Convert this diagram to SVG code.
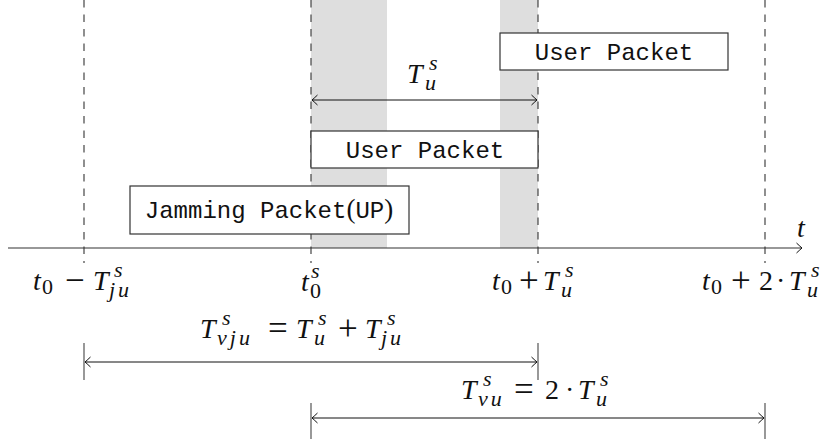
<svg xmlns="http://www.w3.org/2000/svg" width="828" height="439" viewBox="0 0 828 439">
  <style>
    .band { fill: #dedede; }
    .guide { stroke: #333; stroke-width: 1.1; stroke-dasharray: 7.5 7; fill: none; }
    .axis { stroke: #333; stroke-width: 1.2; fill: none; }
    .dim { stroke: #111; stroke-width: 1; fill: none; }
    .tick { stroke: #444; stroke-width: 1.1; fill: none; }
    .box { fill: #fff; stroke: #333; stroke-width: 1.2; }
    .tt { font-family: "Liberation Mono", "DejaVu Sans Mono", monospace; font-size: 24px; fill: #111; }
    .m { font-family: "Liberation Serif", "Times New Roman", serif; font-size: 28px; fill: #111; }
    .i { font-style: italic; }
    .sc { font-size: 22px; }
    .ls { letter-spacing: 3px; }
    .op { font-size: 35px; }
    .rp { font-family: "Liberation Serif", "Times New Roman", serif; font-size: 27px; }
  </style>
  <defs>
    <marker id="to" viewBox="-8 -6 10 12" refX="0" refY="0" markerWidth="10" markerHeight="12"
            markerUnits="userSpaceOnUse" orient="auto-start-reverse">
      <path d="M-5.5,-5 Q-1.5,-1.2 0,0 Q-1.5,1.2 -5.5,5" fill="none" stroke="#111" stroke-width="1"/>
    </marker>
  </defs>

  <!-- shaded slots -->
  <rect class="band" x="311" y="0" width="76" height="248"/>
  <rect class="band" x="500" y="0" width="38" height="248"/>

  <!-- dashed time guides -->
  <g id="guides">
    <line class="guide" x1="84" y1="0" x2="84" y2="263"/>
    <line class="guide" x1="311" y1="0" x2="311" y2="263"/>
    <line class="guide" x1="538" y1="0" x2="538" y2="263"/>
    <line class="guide" x1="765" y1="0" x2="765" y2="263"/>
  </g>

  <!-- packets -->
  <g id="user-packet-2">
    <rect class="box" x="500" y="33" width="228" height="37"/>
    <text class="tt" x="614" y="60" text-anchor="middle">User Packet</text>
  </g>
  <g id="user-packet-1">
    <rect class="box" x="311" y="131" width="227" height="37"/>
    <text class="tt" x="425" y="158" text-anchor="middle">User Packet</text>
  </g>
  <g id="jamming-packet">
    <rect class="box" x="130" y="186" width="279" height="48"/>
    <text class="tt" x="269" y="218" text-anchor="middle">Jamming Packet<tspan class="rp">(</tspan>UP<tspan class="rp">)</tspan></text>
  </g>

  <!-- connectors: time axis and durations -->
  <g id="connectors">
    <line class="axis" x1="8" y1="248" x2="802" y2="248" marker-end="url(#to)"/>
    <line class="dim" x1="312" y1="100" x2="537" y2="100" marker-start="url(#to)" marker-end="url(#to)"/>
    <line class="tick" x1="84" y1="343" x2="84" y2="380"/>
    <line class="tick" x1="538" y1="343" x2="538" y2="380"/>
    <line class="dim" x1="85" y1="362" x2="537" y2="362" marker-start="url(#to)" marker-end="url(#to)"/>
    <line class="tick" x1="311" y1="403" x2="311" y2="439"/>
    <line class="tick" x1="765" y1="403" x2="765" y2="439"/>
    <line class="dim" x1="312" y1="418" x2="764" y2="418" marker-start="url(#to)" marker-end="url(#to)"/>
  </g>

  <!-- axis label -->
  <text class="m i" x="797" y="237">t</text>

  <!-- time labels -->
  <g id="label-t0-minus">
    <text class="m"><tspan class="i" x="33" y="290">t</tspan><tspan class="sc" x="42" y="294">0</tspan><tspan class="op" x="65" y="292">−</tspan><tspan class="i" x="93" y="290">T</tspan><tspan class="sc i" x="114" y="277">s</tspan><tspan class="sc i ls" x="109" y="297">ju</tspan></text>
  </g>
  <g id="label-t0">
    <text class="m"><tspan class="i" x="301" y="291">t</tspan><tspan class="sc i" x="311" y="278">s</tspan><tspan class="sc" x="310" y="298">0</tspan></text>
  </g>
  <g id="label-t0-plus">
    <text class="m"><tspan class="i" x="492" y="290">t</tspan><tspan class="sc" x="501" y="294">0</tspan><tspan class="op" x="519" y="292">+</tspan><tspan class="i" x="543" y="290">T</tspan><tspan class="sc i" x="565" y="277">s</tspan><tspan class="sc i" x="561" y="297">u</tspan></text>
  </g>
  <g id="label-t0-plus-2">
    <text class="m"><tspan class="i" x="702" y="290">t</tspan><tspan class="sc" x="711" y="294">0</tspan><tspan class="op" x="731" y="292">+</tspan><tspan x="759" y="290">2</tspan><tspan x="776" y="290">·</tspan><tspan class="i" x="789" y="290">T</tspan><tspan class="sc i" x="811" y="277">s</tspan><tspan class="sc i" x="807" y="297">u</tspan></text>
  </g>

  <!-- duration labels -->
  <g id="label-tu">
    <text class="m"><tspan class="i" x="407" y="83">T</tspan><tspan class="sc i" x="429" y="70">s</tspan><tspan class="sc i" x="425" y="90">u</tspan></text>
  </g>
  <g id="label-tvju">
    <text class="m"><tspan class="i" x="200" y="338">T</tspan><tspan class="sc i" x="222" y="325">s</tspan><tspan class="sc i ls" x="217" y="345">vju</tspan><tspan class="op" x="268" y="340">=</tspan><tspan class="i" x="296" y="338">T</tspan><tspan class="sc i" x="318" y="325">s</tspan><tspan class="sc i" x="314" y="345">u</tspan><tspan class="op" x="338" y="340">+</tspan><tspan class="i" x="365" y="338">T</tspan><tspan class="sc i" x="387" y="325">s</tspan><tspan class="sc i ls" x="381" y="345">ju</tspan></text>
  </g>
  <g id="label-tvu">
    <text class="m"><tspan class="i" x="461" y="399">T</tspan><tspan class="sc i" x="483" y="386">s</tspan><tspan class="sc i ls" x="478" y="406">vu</tspan><tspan class="op" x="514" y="401">=</tspan><tspan x="545" y="399">2</tspan><tspan x="565" y="399">·</tspan><tspan class="i" x="578" y="399">T</tspan><tspan class="sc i" x="600" y="386">s</tspan><tspan class="sc i" x="596" y="406">u</tspan></text>
  </g>
</svg>
